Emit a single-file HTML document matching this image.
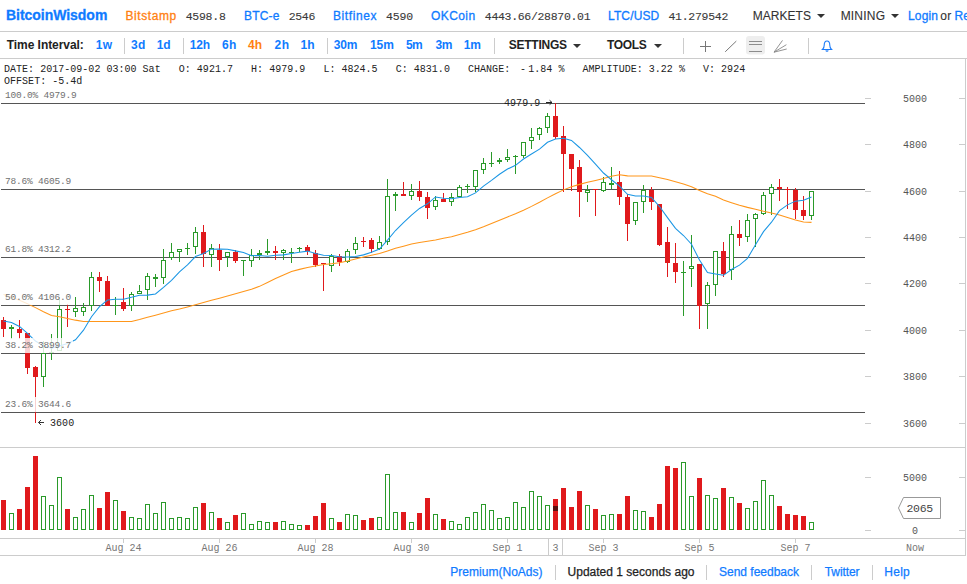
<!DOCTYPE html>
<html><head><meta charset="utf-8"><title>BitcoinWisdom</title>
<style>
html,body{margin:0;padding:0;background:#fff;}
body{width:967px;height:584px;overflow:hidden;position:relative;font-family:"Liberation Sans",sans-serif;color:#333;}
.a{position:absolute;white-space:nowrap;}
.h1 span,.h2 span,.ft span{position:absolute;white-space:nowrap;}
.h1{position:absolute;left:0;top:0;width:967px;height:31px;border-bottom:1px solid #ccc;font-size:12px;line-height:15px;}
.h1 span{top:9px;-webkit-text-stroke:0.3px;}
.b{color:#0f7bff;}
.o{color:#ff8112;}
.m{font-family:"Liberation Mono",monospace;}
.h1 span:not(.b):not(.o){-webkit-text-stroke:0.1px;}
.h1 .m{font-size:11.5px;color:#3a3a3a;top:9px;-webkit-text-stroke:0;}
.h2{position:absolute;left:0;top:32px;width:967px;height:26px;border-bottom:1px solid #ccc;font-size:12px;line-height:14px;font-weight:bold;}
.h2 span{top:6px;}
.h2 i{position:absolute;top:6px;width:1px;height:16px;background:#ccc;}
.info{position:absolute;left:4px;font-family:"Liberation Mono",monospace;font-size:10px;line-height:12px;color:#222;white-space:pre;letter-spacing:0.025px;}
.fl{position:absolute;left:3px;font-family:"Liberation Mono",monospace;font-size:9.5px;letter-spacing:-0.2px;line-height:12px;height:13px;color:#707070;background:rgba(255,255,255,0.8);padding:2px 2px 0;white-space:pre;}
.pl{position:absolute;left:903px;width:24px;text-align:center;font-family:"Liberation Mono",monospace;font-size:10px;line-height:12px;color:#555;}
.xl{position:absolute;top:543px;width:60px;text-align:center;font-family:"Liberation Mono",monospace;font-size:10px;line-height:12px;color:#777;white-space:pre;}
.ft{position:absolute;left:0;top:556px;width:967px;height:28px;font-size:12px;line-height:14px;}
.ft span{top:9px;-webkit-text-stroke:0.25px;}
.ft i{position:absolute;top:9px;width:1px;height:15px;background:#ccc;}
.car{position:absolute;width:0;height:0;border-left:4px solid transparent;border-right:4px solid transparent;border-top:4px solid #333;}
</style></head><body>
<div class="h1">
<span class="b" style="left:5.95px;letter-spacing:-0.03px;font-weight:bold;font-size:14px;top:8px;">BitcoinWisdom</span>
<span class="o" style="left:125.40px;letter-spacing:0.60px;">Bitstamp</span>
<span class="m" style="left:185.65px;letter-spacing:-0.25px;">4598.8</span>
<span class="b" style="left:244.00px;letter-spacing:0.18px;">BTC-e</span>
<span class="m" style="left:288.75px;letter-spacing:-0.34px;">2546</span>
<span class="b" style="left:333.00px;letter-spacing:0.60px;">Bitfinex</span>
<span class="m" style="left:385.90px;letter-spacing:-0.08px;">4590</span>
<span class="b" style="left:430.90px;letter-spacing:0.45px;">OKCoin</span>
<span class="m" style="left:484.80px;letter-spacing:-0.31px;">4443.66/28870.01</span>
<span class="b" style="left:608.00px;letter-spacing:0.13px;">LTC/USD</span>
<span class="m" style="left:668.50px;letter-spacing:-0.28px;">41.279542</span>
<span class="" style="left:752.65px;letter-spacing:0.04px;">MARKETS</span>
<span class="" style="left:840.65px;letter-spacing:0.20px;">MINING</span>
<span class="b" style="left:907.95px;letter-spacing:0.18px;">Login</span>
<span class="" style="left:940.30px;letter-spacing:0.18px;">or</span>
<span class="b" style="left:954.50px;letter-spacing:0.18px;">Register</span>
<div class="car" style="left:817px;top:14px;"></div><div class="car" style="left:891px;top:14px;"></div>
</div>
<div class="h2">
<span class="" style="left:6.80px;letter-spacing:-0.06px;color:#222;">Time Interval:</span>
<span class="b" style="left:95.80px;letter-spacing:0.25px;">1w</span>
<span class="b" style="left:130.90px;letter-spacing:0.50px;">3d</span>
<span class="b" style="left:156.70px;letter-spacing:0.00px;">1d</span>
<span class="b" style="left:189.70px;letter-spacing:-0.12px;">12h</span>
<span class="b" style="left:221.95px;letter-spacing:0.50px;">6h</span>
<span class="o" style="left:248.05px;letter-spacing:0.00px;">4h</span>
<span class="b" style="left:274.50px;letter-spacing:0.50px;">2h</span>
<span class="b" style="left:300.55px;letter-spacing:-0.00px;">1h</span>
<span class="b" style="left:333.75px;letter-spacing:-0.12px;">30m</span>
<span class="b" style="left:369.90px;letter-spacing:0.00px;">15m</span>
<span class="b" style="left:405.90px;letter-spacing:-0.50px;">5m</span>
<span class="b" style="left:435.50px;letter-spacing:-0.50px;">3m</span>
<span class="b" style="left:463.70px;letter-spacing:0.00px;">1m</span>
<span class="" style="left:508.75px;letter-spacing:-0.25px;color:#222;">SETTINGS</span>
<span class="" style="left:607.00px;letter-spacing:-0.31px;color:#222;">TOOLS</span>
<i style="left:124px"></i><i style="left:183px"></i><i style="left:327px"></i><i style="left:494px"></i><i style="left:683px"></i><i style="left:808px"></i><div class="car" style="left:573px;top:12px;"></div><div class="car" style="left:654px;top:12px;"></div>
<svg class="a" style="left:690px;top:0;" width="160" height="26" viewBox="690 32 160 26">
<rect x="746" y="36" width="19" height="18.5" rx="3" fill="#eee"/>
<g stroke="#777" stroke-width="1" fill="none">
<path d="M700 46.5H711M705.5 41V52"/>
<path d="M725.2 51.8L736.3 41.1"/>
<path d="M749 41.5H762M749 44.5H762M749 51.5H762" stroke="#8c8c8c"/>
<path d="M774 52.2L782.5 40.4M774 52.2L786.4 44.7M774 52.2L786.7 49" stroke="#888" stroke-width="0.9"/>
</g>
<path d="M822.5 49.5h9c-1.2-1-1.7-2.2-1.7-4.2 0-2.6-1.1-4.3-2.8-4.3s-2.8 1.7-2.8 4.3c0 2-.5 3.2-1.7 4.2zM826 50.3a1 1 0 0 0 2 0" fill="none" stroke="#1a7af8" stroke-width="1.1"/>
</svg>
</div>
<div class="info" style="top:64px;">DATE: 2017-09-02 03:00 Sat   O: 4921.7   H: 4979.9   L: 4824.5   C: 4831.0   CHANGE:   1.84 %   AMPLITUDE: 3.22 %   V: 2924</div>
<div class="info" style="top:64px;left:520px;">-</div>
<div class="info" style="top:76px;">OFFSET: -5.4d</div>
<svg class="a" style="left:0;top:0;" width="967" height="584" viewBox="0 0 967 584" shape-rendering="crispEdges">
<rect x="965" y="59" width="1" height="497" fill="#ccc"/>
<rect x="0" y="447" width="965" height="1" fill="#ccc"/>
<rect x="0" y="538" width="965" height="1" fill="#ccc"/>
<rect x="0" y="555" width="965" height="1" fill="#ccc"/>
<rect x="1" y="103" width="864" height="1" fill="#555"/><rect x="1" y="189" width="864" height="1" fill="#555"/><rect x="1" y="257" width="864" height="1" fill="#555"/><rect x="1" y="305" width="864" height="1" fill="#555"/><rect x="1" y="353" width="864" height="1" fill="#555"/><rect x="1" y="412" width="864" height="1" fill="#555"/>
<rect x="865" y="98" width="6" height="1" fill="#ccc"/><rect x="959" y="98" width="6" height="1" fill="#ccc"/><rect x="865" y="144" width="6" height="1" fill="#ccc"/><rect x="959" y="144" width="6" height="1" fill="#ccc"/><rect x="865" y="191" width="6" height="1" fill="#ccc"/><rect x="959" y="191" width="6" height="1" fill="#ccc"/><rect x="865" y="237" width="6" height="1" fill="#ccc"/><rect x="959" y="237" width="6" height="1" fill="#ccc"/><rect x="865" y="283" width="6" height="1" fill="#ccc"/><rect x="959" y="283" width="6" height="1" fill="#ccc"/><rect x="865" y="330" width="6" height="1" fill="#ccc"/><rect x="959" y="330" width="6" height="1" fill="#ccc"/><rect x="865" y="376" width="6" height="1" fill="#ccc"/><rect x="959" y="376" width="6" height="1" fill="#ccc"/><rect x="865" y="423" width="6" height="1" fill="#ccc"/><rect x="959" y="423" width="6" height="1" fill="#ccc"/><rect x="865" y="477" width="6" height="1" fill="#ccc"/><rect x="959" y="477" width="6" height="1" fill="#ccc"/><rect x="865" y="530" width="6" height="1" fill="#ccc"/><rect x="959" y="530" width="6" height="1" fill="#ccc"/>
<rect x="123" y="539" width="1" height="4" fill="#ccc"/><rect x="219" y="539" width="1" height="4" fill="#ccc"/><rect x="315" y="539" width="1" height="4" fill="#ccc"/><rect x="411" y="539" width="1" height="4" fill="#ccc"/><rect x="507" y="539" width="1" height="4" fill="#ccc"/><rect x="603" y="539" width="1" height="4" fill="#ccc"/><rect x="699" y="539" width="1" height="4" fill="#ccc"/><rect x="795" y="539" width="1" height="4" fill="#ccc"/>
<rect x="3" y="317" width="1" height="20" fill="#e0191c"/>
<rect x="1" y="320" width="5" height="9" fill="#e0191c"/>
<rect x="11" y="325" width="1" height="14" fill="#2a9a2a"/>
<rect x="9" y="327" width="5" height="2" fill="#2a9a2a"/>
<rect x="19" y="320" width="1" height="19" fill="#e0191c"/>
<rect x="17" y="329" width="5" height="4" fill="#e0191c"/>
<rect x="27" y="333" width="1" height="41" fill="#e0191c"/>
<rect x="25" y="333" width="5" height="35" fill="#e0191c"/>
<rect x="35" y="366" width="1" height="57" fill="#e0191c"/>
<rect x="33" y="367" width="5" height="10" fill="#e0191c"/>
<rect x="43" y="341" width="1" height="46" fill="#2a9a2a"/>
<rect x="41" y="353" width="5" height="24" fill="#2a9a2a"/>
<rect x="42" y="354" width="3" height="22" fill="#fff"/>
<rect x="51" y="334" width="1" height="26" fill="#2a9a2a"/>
<rect x="49" y="352" width="5" height="1" fill="#2a9a2a"/>
<rect x="59" y="297" width="1" height="54" fill="#2a9a2a"/>
<rect x="57" y="309" width="5" height="42" fill="#2a9a2a"/>
<rect x="58" y="310" width="3" height="40" fill="#fff"/>
<rect x="67" y="304" width="1" height="23" fill="#e0191c"/>
<rect x="65" y="309" width="5" height="1" fill="#e0191c"/>
<rect x="75" y="297" width="1" height="20" fill="#2a9a2a"/>
<rect x="73" y="308" width="5" height="4" fill="#2a9a2a"/>
<rect x="74" y="309" width="3" height="2" fill="#fff"/>
<rect x="83" y="303" width="1" height="13" fill="#2a9a2a"/>
<rect x="81" y="307" width="5" height="5" fill="#2a9a2a"/>
<rect x="82" y="308" width="3" height="3" fill="#fff"/>
<rect x="91" y="272" width="1" height="39" fill="#2a9a2a"/>
<rect x="89" y="277" width="5" height="29" fill="#2a9a2a"/>
<rect x="90" y="278" width="3" height="27" fill="#fff"/>
<rect x="99" y="272" width="1" height="20" fill="#e0191c"/>
<rect x="97" y="277" width="5" height="4" fill="#e0191c"/>
<rect x="107" y="276" width="1" height="30" fill="#e0191c"/>
<rect x="105" y="281" width="5" height="25" fill="#e0191c"/>
<rect x="115" y="297" width="1" height="18" fill="#2a9a2a"/>
<rect x="113" y="305" width="5" height="1" fill="#2a9a2a"/>
<rect x="123" y="288" width="1" height="23" fill="#e0191c"/>
<rect x="121" y="302" width="5" height="7" fill="#e0191c"/>
<rect x="131" y="292" width="1" height="19" fill="#2a9a2a"/>
<rect x="129" y="294" width="5" height="12" fill="#2a9a2a"/>
<rect x="130" y="295" width="3" height="10" fill="#fff"/>
<rect x="139" y="285" width="1" height="9" fill="#2a9a2a"/>
<rect x="137" y="291" width="5" height="3" fill="#2a9a2a"/>
<rect x="138" y="292" width="3" height="1" fill="#fff"/>
<rect x="147" y="273" width="1" height="27" fill="#2a9a2a"/>
<rect x="145" y="276" width="5" height="14" fill="#2a9a2a"/>
<rect x="146" y="277" width="3" height="12" fill="#fff"/>
<rect x="155" y="274" width="1" height="13" fill="#2a9a2a"/>
<rect x="153" y="277" width="5" height="2" fill="#2a9a2a"/>
<rect x="163" y="249" width="1" height="35" fill="#2a9a2a"/>
<rect x="161" y="260" width="5" height="18" fill="#2a9a2a"/>
<rect x="162" y="261" width="3" height="16" fill="#fff"/>
<rect x="171" y="243" width="1" height="17" fill="#2a9a2a"/>
<rect x="169" y="252" width="5" height="6" fill="#2a9a2a"/>
<rect x="170" y="253" width="3" height="4" fill="#fff"/>
<rect x="179" y="249" width="1" height="13" fill="#2a9a2a"/>
<rect x="177" y="249" width="5" height="3" fill="#2a9a2a"/>
<rect x="178" y="250" width="3" height="1" fill="#fff"/>
<rect x="187" y="243" width="1" height="12" fill="#2a9a2a"/>
<rect x="185" y="248" width="5" height="1" fill="#2a9a2a"/>
<rect x="195" y="227" width="1" height="27" fill="#2a9a2a"/>
<rect x="193" y="232" width="5" height="15" fill="#2a9a2a"/>
<rect x="194" y="233" width="3" height="13" fill="#fff"/>
<rect x="203" y="225" width="1" height="42" fill="#e0191c"/>
<rect x="201" y="232" width="5" height="22" fill="#e0191c"/>
<rect x="211" y="244" width="1" height="23" fill="#2a9a2a"/>
<rect x="209" y="248" width="5" height="7" fill="#2a9a2a"/>
<rect x="210" y="249" width="3" height="5" fill="#fff"/>
<rect x="219" y="244" width="1" height="27" fill="#e0191c"/>
<rect x="217" y="250" width="5" height="10" fill="#e0191c"/>
<rect x="227" y="252" width="1" height="15" fill="#2a9a2a"/>
<rect x="225" y="252" width="5" height="5" fill="#2a9a2a"/>
<rect x="226" y="253" width="3" height="3" fill="#fff"/>
<rect x="235" y="250" width="1" height="13" fill="#e0191c"/>
<rect x="233" y="252" width="5" height="9" fill="#e0191c"/>
<rect x="243" y="260" width="1" height="16" fill="#2a9a2a"/>
<rect x="241" y="260" width="5" height="1" fill="#2a9a2a"/>
<rect x="251" y="249" width="1" height="18" fill="#2a9a2a"/>
<rect x="249" y="255" width="5" height="6" fill="#2a9a2a"/>
<rect x="250" y="256" width="3" height="4" fill="#fff"/>
<rect x="259" y="250" width="1" height="10" fill="#2a9a2a"/>
<rect x="257" y="253" width="5" height="2" fill="#2a9a2a"/>
<rect x="267" y="239" width="1" height="16" fill="#2a9a2a"/>
<rect x="265" y="251" width="5" height="2" fill="#2a9a2a"/>
<rect x="275" y="246" width="1" height="14" fill="#e0191c"/>
<rect x="273" y="251" width="5" height="2" fill="#e0191c"/>
<rect x="283" y="249" width="1" height="11" fill="#2a9a2a"/>
<rect x="281" y="250" width="5" height="3" fill="#2a9a2a"/>
<rect x="282" y="251" width="3" height="1" fill="#fff"/>
<rect x="291" y="248" width="1" height="15" fill="#2a9a2a"/>
<rect x="289" y="252" width="5" height="1" fill="#2a9a2a"/>
<rect x="299" y="247" width="1" height="5" fill="#2a9a2a"/>
<rect x="297" y="248" width="5" height="1" fill="#2a9a2a"/>
<rect x="307" y="245" width="1" height="10" fill="#e0191c"/>
<rect x="305" y="247" width="5" height="4" fill="#e0191c"/>
<rect x="315" y="250" width="1" height="17" fill="#e0191c"/>
<rect x="313" y="253" width="5" height="12" fill="#e0191c"/>
<rect x="323" y="263" width="1" height="28" fill="#e0191c"/>
<rect x="321" y="263" width="5" height="1" fill="#e0191c"/>
<rect x="331" y="254" width="1" height="18" fill="#2a9a2a"/>
<rect x="329" y="256" width="5" height="10" fill="#2a9a2a"/>
<rect x="330" y="257" width="3" height="8" fill="#fff"/>
<rect x="339" y="254" width="1" height="12" fill="#e0191c"/>
<rect x="337" y="256" width="5" height="6" fill="#e0191c"/>
<rect x="347" y="249" width="1" height="14" fill="#2a9a2a"/>
<rect x="345" y="251" width="5" height="11" fill="#2a9a2a"/>
<rect x="346" y="252" width="3" height="9" fill="#fff"/>
<rect x="355" y="237" width="1" height="17" fill="#2a9a2a"/>
<rect x="353" y="243" width="5" height="7" fill="#2a9a2a"/>
<rect x="354" y="244" width="3" height="5" fill="#fff"/>
<rect x="363" y="237" width="1" height="10" fill="#e0191c"/>
<rect x="361" y="241" width="5" height="1" fill="#e0191c"/>
<rect x="371" y="238" width="1" height="15" fill="#e0191c"/>
<rect x="369" y="240" width="5" height="9" fill="#e0191c"/>
<rect x="379" y="236" width="1" height="14" fill="#2a9a2a"/>
<rect x="377" y="242" width="5" height="7" fill="#2a9a2a"/>
<rect x="378" y="243" width="3" height="5" fill="#fff"/>
<rect x="387" y="179" width="1" height="66" fill="#2a9a2a"/>
<rect x="385" y="196" width="5" height="46" fill="#2a9a2a"/>
<rect x="386" y="197" width="3" height="44" fill="#fff"/>
<rect x="395" y="192" width="1" height="19" fill="#2a9a2a"/>
<rect x="393" y="194" width="5" height="2" fill="#2a9a2a"/>
<rect x="403" y="182" width="1" height="14" fill="#e0191c"/>
<rect x="401" y="194" width="5" height="2" fill="#e0191c"/>
<rect x="411" y="184" width="1" height="16" fill="#2a9a2a"/>
<rect x="409" y="191" width="5" height="5" fill="#2a9a2a"/>
<rect x="410" y="192" width="3" height="3" fill="#fff"/>
<rect x="419" y="181" width="1" height="20" fill="#e0191c"/>
<rect x="417" y="191" width="5" height="6" fill="#e0191c"/>
<rect x="427" y="192" width="1" height="27" fill="#e0191c"/>
<rect x="425" y="197" width="5" height="11" fill="#e0191c"/>
<rect x="435" y="196" width="1" height="14" fill="#2a9a2a"/>
<rect x="433" y="200" width="5" height="7" fill="#2a9a2a"/>
<rect x="434" y="201" width="3" height="5" fill="#fff"/>
<rect x="443" y="193" width="1" height="9" fill="#e0191c"/>
<rect x="441" y="199" width="5" height="3" fill="#e0191c"/>
<rect x="451" y="193" width="1" height="13" fill="#2a9a2a"/>
<rect x="449" y="197" width="5" height="5" fill="#2a9a2a"/>
<rect x="450" y="198" width="3" height="3" fill="#fff"/>
<rect x="459" y="185" width="1" height="13" fill="#2a9a2a"/>
<rect x="457" y="187" width="5" height="10" fill="#2a9a2a"/>
<rect x="458" y="188" width="3" height="8" fill="#fff"/>
<rect x="467" y="184" width="1" height="9" fill="#2a9a2a"/>
<rect x="465" y="186" width="5" height="1" fill="#2a9a2a"/>
<rect x="475" y="170" width="1" height="22" fill="#2a9a2a"/>
<rect x="473" y="170" width="5" height="17" fill="#2a9a2a"/>
<rect x="474" y="171" width="3" height="15" fill="#fff"/>
<rect x="483" y="158" width="1" height="16" fill="#2a9a2a"/>
<rect x="481" y="163" width="5" height="7" fill="#2a9a2a"/>
<rect x="482" y="164" width="3" height="5" fill="#fff"/>
<rect x="491" y="152" width="1" height="15" fill="#2a9a2a"/>
<rect x="489" y="163" width="5" height="1" fill="#2a9a2a"/>
<rect x="499" y="158" width="1" height="6" fill="#2a9a2a"/>
<rect x="497" y="160" width="5" height="2" fill="#2a9a2a"/>
<rect x="507" y="149" width="1" height="13" fill="#2a9a2a"/>
<rect x="505" y="157" width="5" height="3" fill="#2a9a2a"/>
<rect x="506" y="158" width="3" height="1" fill="#fff"/>
<rect x="515" y="155" width="1" height="19" fill="#2a9a2a"/>
<rect x="513" y="156" width="5" height="1" fill="#2a9a2a"/>
<rect x="523" y="142" width="1" height="16" fill="#2a9a2a"/>
<rect x="521" y="142" width="5" height="14" fill="#2a9a2a"/>
<rect x="522" y="143" width="3" height="12" fill="#fff"/>
<rect x="531" y="128" width="1" height="21" fill="#2a9a2a"/>
<rect x="529" y="137" width="5" height="4" fill="#2a9a2a"/>
<rect x="530" y="138" width="3" height="2" fill="#fff"/>
<rect x="539" y="127" width="1" height="13" fill="#2a9a2a"/>
<rect x="537" y="128" width="5" height="7" fill="#2a9a2a"/>
<rect x="538" y="129" width="3" height="5" fill="#fff"/>
<rect x="547" y="113" width="1" height="20" fill="#2a9a2a"/>
<rect x="545" y="116" width="5" height="12" fill="#2a9a2a"/>
<rect x="546" y="117" width="3" height="10" fill="#fff"/>
<rect x="555" y="103" width="1" height="36" fill="#e0191c"/>
<rect x="553" y="116" width="5" height="21" fill="#e0191c"/>
<rect x="563" y="126" width="1" height="66" fill="#e0191c"/>
<rect x="561" y="136" width="5" height="18" fill="#e0191c"/>
<rect x="571" y="154" width="1" height="37" fill="#e0191c"/>
<rect x="569" y="154" width="5" height="15" fill="#e0191c"/>
<rect x="579" y="160" width="1" height="57" fill="#e0191c"/>
<rect x="577" y="167" width="5" height="25" fill="#e0191c"/>
<rect x="587" y="185" width="1" height="17" fill="#2a9a2a"/>
<rect x="585" y="190" width="5" height="3" fill="#2a9a2a"/>
<rect x="586" y="191" width="3" height="1" fill="#fff"/>
<rect x="595" y="189" width="1" height="27" fill="#e0191c"/>
<rect x="593" y="189" width="5" height="1" fill="#e0191c"/>
<rect x="603" y="177" width="1" height="15" fill="#2a9a2a"/>
<rect x="601" y="182" width="5" height="9" fill="#2a9a2a"/>
<rect x="602" y="183" width="3" height="7" fill="#fff"/>
<rect x="611" y="167" width="1" height="22" fill="#2a9a2a"/>
<rect x="609" y="183" width="5" height="2" fill="#2a9a2a"/>
<rect x="619" y="171" width="1" height="34" fill="#e0191c"/>
<rect x="617" y="182" width="5" height="15" fill="#e0191c"/>
<rect x="627" y="194" width="1" height="47" fill="#e0191c"/>
<rect x="625" y="197" width="5" height="27" fill="#e0191c"/>
<rect x="635" y="202" width="1" height="23" fill="#2a9a2a"/>
<rect x="633" y="202" width="5" height="19" fill="#2a9a2a"/>
<rect x="634" y="203" width="3" height="17" fill="#fff"/>
<rect x="643" y="185" width="1" height="28" fill="#2a9a2a"/>
<rect x="641" y="190" width="5" height="12" fill="#2a9a2a"/>
<rect x="642" y="191" width="3" height="10" fill="#fff"/>
<rect x="651" y="187" width="1" height="23" fill="#e0191c"/>
<rect x="649" y="190" width="5" height="12" fill="#e0191c"/>
<rect x="659" y="204" width="1" height="42" fill="#e0191c"/>
<rect x="657" y="204" width="5" height="41" fill="#e0191c"/>
<rect x="667" y="227" width="1" height="50" fill="#e0191c"/>
<rect x="665" y="242" width="5" height="21" fill="#e0191c"/>
<rect x="675" y="243" width="1" height="40" fill="#e0191c"/>
<rect x="673" y="263" width="5" height="9" fill="#e0191c"/>
<rect x="683" y="261" width="1" height="55" fill="#2a9a2a"/>
<rect x="681" y="272" width="5" height="1" fill="#2a9a2a"/>
<rect x="691" y="235" width="1" height="52" fill="#2a9a2a"/>
<rect x="689" y="266" width="5" height="3" fill="#2a9a2a"/>
<rect x="690" y="267" width="3" height="1" fill="#fff"/>
<rect x="699" y="264" width="1" height="65" fill="#e0191c"/>
<rect x="697" y="264" width="5" height="42" fill="#e0191c"/>
<rect x="707" y="282" width="1" height="47" fill="#2a9a2a"/>
<rect x="705" y="285" width="5" height="19" fill="#2a9a2a"/>
<rect x="706" y="286" width="3" height="17" fill="#fff"/>
<rect x="715" y="251" width="1" height="45" fill="#2a9a2a"/>
<rect x="713" y="251" width="5" height="34" fill="#2a9a2a"/>
<rect x="714" y="252" width="3" height="32" fill="#fff"/>
<rect x="723" y="242" width="1" height="35" fill="#e0191c"/>
<rect x="721" y="251" width="5" height="23" fill="#e0191c"/>
<rect x="731" y="226" width="1" height="54" fill="#2a9a2a"/>
<rect x="729" y="234" width="5" height="36" fill="#2a9a2a"/>
<rect x="730" y="235" width="3" height="34" fill="#fff"/>
<rect x="739" y="220" width="1" height="26" fill="#e0191c"/>
<rect x="737" y="234" width="5" height="4" fill="#e0191c"/>
<rect x="747" y="214" width="1" height="28" fill="#2a9a2a"/>
<rect x="745" y="220" width="5" height="17" fill="#2a9a2a"/>
<rect x="746" y="221" width="3" height="15" fill="#fff"/>
<rect x="755" y="213" width="1" height="34" fill="#2a9a2a"/>
<rect x="753" y="214" width="5" height="5" fill="#2a9a2a"/>
<rect x="754" y="215" width="3" height="3" fill="#fff"/>
<rect x="763" y="192" width="1" height="23" fill="#2a9a2a"/>
<rect x="761" y="195" width="5" height="19" fill="#2a9a2a"/>
<rect x="762" y="196" width="3" height="17" fill="#fff"/>
<rect x="771" y="184" width="1" height="31" fill="#2a9a2a"/>
<rect x="769" y="187" width="5" height="7" fill="#2a9a2a"/>
<rect x="770" y="188" width="3" height="5" fill="#fff"/>
<rect x="779" y="179" width="1" height="22" fill="#e0191c"/>
<rect x="777" y="187" width="5" height="2" fill="#e0191c"/>
<rect x="787" y="187" width="1" height="22" fill="#e0191c"/>
<rect x="785" y="189" width="5" height="1" fill="#e0191c"/>
<rect x="795" y="188" width="1" height="31" fill="#e0191c"/>
<rect x="793" y="190" width="5" height="20" fill="#e0191c"/>
<rect x="803" y="196" width="1" height="24" fill="#e0191c"/>
<rect x="801" y="210" width="5" height="6" fill="#e0191c"/>
<rect x="811" y="191" width="1" height="29" fill="#2a9a2a"/>
<rect x="809" y="191" width="5" height="25" fill="#2a9a2a"/>
<rect x="810" y="192" width="3" height="23" fill="#fff"/>
<rect x="1" y="500" width="5" height="30" fill="#e0191c"/>
<rect x="9" y="513" width="5" height="17" fill="#2a9a2a"/>
<rect x="10" y="514" width="3" height="15" fill="#fff"/>
<rect x="17" y="509" width="5" height="21" fill="#e0191c"/>
<rect x="25" y="487" width="5" height="43" fill="#e0191c"/>
<rect x="33" y="456" width="5" height="74" fill="#e0191c"/>
<rect x="41" y="496" width="5" height="34" fill="#2a9a2a"/>
<rect x="42" y="497" width="3" height="32" fill="#fff"/>
<rect x="49" y="505" width="5" height="25" fill="#2a9a2a"/>
<rect x="50" y="506" width="3" height="23" fill="#fff"/>
<rect x="57" y="477" width="5" height="53" fill="#2a9a2a"/>
<rect x="58" y="478" width="3" height="51" fill="#fff"/>
<rect x="65" y="509" width="5" height="21" fill="#e0191c"/>
<rect x="73" y="517" width="5" height="13" fill="#2a9a2a"/>
<rect x="74" y="518" width="3" height="11" fill="#fff"/>
<rect x="81" y="509" width="5" height="21" fill="#2a9a2a"/>
<rect x="82" y="510" width="3" height="19" fill="#fff"/>
<rect x="89" y="495" width="5" height="35" fill="#2a9a2a"/>
<rect x="90" y="496" width="3" height="33" fill="#fff"/>
<rect x="97" y="508" width="5" height="22" fill="#e0191c"/>
<rect x="105" y="492" width="5" height="38" fill="#e0191c"/>
<rect x="113" y="500" width="5" height="30" fill="#2a9a2a"/>
<rect x="114" y="501" width="3" height="28" fill="#fff"/>
<rect x="121" y="511" width="5" height="19" fill="#e0191c"/>
<rect x="129" y="517" width="5" height="13" fill="#2a9a2a"/>
<rect x="130" y="518" width="3" height="11" fill="#fff"/>
<rect x="137" y="518" width="5" height="12" fill="#2a9a2a"/>
<rect x="138" y="519" width="3" height="10" fill="#fff"/>
<rect x="145" y="504" width="5" height="26" fill="#2a9a2a"/>
<rect x="146" y="505" width="3" height="24" fill="#fff"/>
<rect x="153" y="513" width="5" height="17" fill="#2a9a2a"/>
<rect x="154" y="514" width="3" height="15" fill="#fff"/>
<rect x="161" y="502" width="5" height="28" fill="#2a9a2a"/>
<rect x="162" y="503" width="3" height="26" fill="#fff"/>
<rect x="169" y="518" width="5" height="12" fill="#2a9a2a"/>
<rect x="170" y="519" width="3" height="10" fill="#fff"/>
<rect x="177" y="517" width="5" height="13" fill="#2a9a2a"/>
<rect x="178" y="518" width="3" height="11" fill="#fff"/>
<rect x="185" y="518" width="5" height="12" fill="#2a9a2a"/>
<rect x="186" y="519" width="3" height="10" fill="#fff"/>
<rect x="193" y="507" width="5" height="23" fill="#2a9a2a"/>
<rect x="194" y="508" width="3" height="21" fill="#fff"/>
<rect x="201" y="503" width="5" height="27" fill="#e0191c"/>
<rect x="209" y="512" width="5" height="18" fill="#2a9a2a"/>
<rect x="210" y="513" width="3" height="16" fill="#fff"/>
<rect x="217" y="518" width="5" height="12" fill="#e0191c"/>
<rect x="225" y="522" width="5" height="8" fill="#2a9a2a"/>
<rect x="226" y="523" width="3" height="6" fill="#fff"/>
<rect x="233" y="515" width="5" height="15" fill="#e0191c"/>
<rect x="241" y="513" width="5" height="17" fill="#2a9a2a"/>
<rect x="242" y="514" width="3" height="15" fill="#fff"/>
<rect x="249" y="524" width="5" height="6" fill="#2a9a2a"/>
<rect x="250" y="525" width="3" height="4" fill="#fff"/>
<rect x="257" y="521" width="5" height="9" fill="#2a9a2a"/>
<rect x="258" y="522" width="3" height="7" fill="#fff"/>
<rect x="265" y="522" width="5" height="8" fill="#2a9a2a"/>
<rect x="266" y="523" width="3" height="6" fill="#fff"/>
<rect x="273" y="522" width="5" height="8" fill="#e0191c"/>
<rect x="281" y="521" width="5" height="9" fill="#2a9a2a"/>
<rect x="282" y="522" width="3" height="7" fill="#fff"/>
<rect x="289" y="524" width="5" height="6" fill="#2a9a2a"/>
<rect x="290" y="525" width="3" height="4" fill="#fff"/>
<rect x="297" y="525" width="5" height="5" fill="#2a9a2a"/>
<rect x="298" y="526" width="3" height="3" fill="#fff"/>
<rect x="305" y="525" width="5" height="5" fill="#e0191c"/>
<rect x="313" y="516" width="5" height="14" fill="#e0191c"/>
<rect x="321" y="503" width="5" height="27" fill="#e0191c"/>
<rect x="329" y="518" width="5" height="12" fill="#2a9a2a"/>
<rect x="330" y="519" width="3" height="10" fill="#fff"/>
<rect x="337" y="522" width="5" height="8" fill="#e0191c"/>
<rect x="345" y="514" width="5" height="16" fill="#2a9a2a"/>
<rect x="346" y="515" width="3" height="14" fill="#fff"/>
<rect x="353" y="515" width="5" height="15" fill="#2a9a2a"/>
<rect x="354" y="516" width="3" height="13" fill="#fff"/>
<rect x="361" y="520" width="5" height="10" fill="#e0191c"/>
<rect x="369" y="518" width="5" height="12" fill="#e0191c"/>
<rect x="377" y="517" width="5" height="13" fill="#2a9a2a"/>
<rect x="378" y="518" width="3" height="11" fill="#fff"/>
<rect x="385" y="474" width="5" height="56" fill="#2a9a2a"/>
<rect x="386" y="475" width="3" height="54" fill="#fff"/>
<rect x="393" y="512" width="5" height="18" fill="#2a9a2a"/>
<rect x="394" y="513" width="3" height="16" fill="#fff"/>
<rect x="401" y="512" width="5" height="18" fill="#e0191c"/>
<rect x="409" y="522" width="5" height="8" fill="#2a9a2a"/>
<rect x="410" y="523" width="3" height="6" fill="#fff"/>
<rect x="417" y="513" width="5" height="17" fill="#e0191c"/>
<rect x="425" y="498" width="5" height="32" fill="#e0191c"/>
<rect x="433" y="514" width="5" height="16" fill="#2a9a2a"/>
<rect x="434" y="515" width="3" height="14" fill="#fff"/>
<rect x="441" y="519" width="5" height="11" fill="#e0191c"/>
<rect x="449" y="521" width="5" height="9" fill="#2a9a2a"/>
<rect x="450" y="522" width="3" height="7" fill="#fff"/>
<rect x="457" y="524" width="5" height="6" fill="#2a9a2a"/>
<rect x="458" y="525" width="3" height="4" fill="#fff"/>
<rect x="465" y="517" width="5" height="13" fill="#2a9a2a"/>
<rect x="466" y="518" width="3" height="11" fill="#fff"/>
<rect x="473" y="512" width="5" height="18" fill="#2a9a2a"/>
<rect x="474" y="513" width="3" height="16" fill="#fff"/>
<rect x="481" y="504" width="5" height="26" fill="#2a9a2a"/>
<rect x="482" y="505" width="3" height="24" fill="#fff"/>
<rect x="489" y="510" width="5" height="20" fill="#2a9a2a"/>
<rect x="490" y="511" width="3" height="18" fill="#fff"/>
<rect x="497" y="518" width="5" height="12" fill="#2a9a2a"/>
<rect x="498" y="519" width="3" height="10" fill="#fff"/>
<rect x="505" y="517" width="5" height="13" fill="#2a9a2a"/>
<rect x="506" y="518" width="3" height="11" fill="#fff"/>
<rect x="513" y="502" width="5" height="28" fill="#2a9a2a"/>
<rect x="514" y="503" width="3" height="26" fill="#fff"/>
<rect x="521" y="507" width="5" height="23" fill="#2a9a2a"/>
<rect x="522" y="508" width="3" height="21" fill="#fff"/>
<rect x="529" y="491" width="5" height="39" fill="#2a9a2a"/>
<rect x="530" y="492" width="3" height="37" fill="#fff"/>
<rect x="537" y="496" width="5" height="34" fill="#2a9a2a"/>
<rect x="538" y="497" width="3" height="32" fill="#fff"/>
<rect x="545" y="505" width="5" height="25" fill="#2a9a2a"/>
<rect x="546" y="506" width="3" height="23" fill="#fff"/>
<rect x="553" y="499" width="5" height="31" fill="#e0191c"/>
<rect x="561" y="488" width="5" height="42" fill="#e0191c"/>
<rect x="569" y="507" width="5" height="23" fill="#e0191c"/>
<rect x="577" y="491" width="5" height="39" fill="#e0191c"/>
<rect x="585" y="505" width="5" height="25" fill="#2a9a2a"/>
<rect x="586" y="506" width="3" height="23" fill="#fff"/>
<rect x="593" y="509" width="5" height="21" fill="#e0191c"/>
<rect x="601" y="515" width="5" height="15" fill="#2a9a2a"/>
<rect x="602" y="516" width="3" height="13" fill="#fff"/>
<rect x="609" y="514" width="5" height="16" fill="#2a9a2a"/>
<rect x="610" y="515" width="3" height="14" fill="#fff"/>
<rect x="617" y="514" width="5" height="16" fill="#e0191c"/>
<rect x="625" y="496" width="5" height="34" fill="#e0191c"/>
<rect x="633" y="510" width="5" height="20" fill="#2a9a2a"/>
<rect x="634" y="511" width="3" height="18" fill="#fff"/>
<rect x="641" y="511" width="5" height="19" fill="#2a9a2a"/>
<rect x="642" y="512" width="3" height="17" fill="#fff"/>
<rect x="649" y="517" width="5" height="13" fill="#e0191c"/>
<rect x="657" y="504" width="5" height="26" fill="#e0191c"/>
<rect x="665" y="466" width="5" height="64" fill="#e0191c"/>
<rect x="673" y="468" width="5" height="62" fill="#e0191c"/>
<rect x="681" y="462" width="5" height="68" fill="#2a9a2a"/>
<rect x="682" y="463" width="3" height="66" fill="#fff"/>
<rect x="689" y="496" width="5" height="34" fill="#2a9a2a"/>
<rect x="690" y="497" width="3" height="32" fill="#fff"/>
<rect x="697" y="478" width="5" height="52" fill="#e0191c"/>
<rect x="705" y="495" width="5" height="35" fill="#2a9a2a"/>
<rect x="706" y="496" width="3" height="33" fill="#fff"/>
<rect x="713" y="498" width="5" height="32" fill="#2a9a2a"/>
<rect x="714" y="499" width="3" height="30" fill="#fff"/>
<rect x="721" y="488" width="5" height="42" fill="#e0191c"/>
<rect x="729" y="497" width="5" height="33" fill="#2a9a2a"/>
<rect x="730" y="498" width="3" height="31" fill="#fff"/>
<rect x="737" y="503" width="5" height="27" fill="#e0191c"/>
<rect x="745" y="508" width="5" height="22" fill="#2a9a2a"/>
<rect x="746" y="509" width="3" height="20" fill="#fff"/>
<rect x="753" y="501" width="5" height="29" fill="#2a9a2a"/>
<rect x="754" y="502" width="3" height="27" fill="#fff"/>
<rect x="761" y="480" width="5" height="50" fill="#2a9a2a"/>
<rect x="762" y="481" width="3" height="48" fill="#fff"/>
<rect x="769" y="495" width="5" height="35" fill="#2a9a2a"/>
<rect x="770" y="496" width="3" height="33" fill="#fff"/>
<rect x="777" y="506" width="5" height="24" fill="#e0191c"/>
<rect x="785" y="514" width="5" height="16" fill="#e0191c"/>
<rect x="793" y="515" width="5" height="15" fill="#e0191c"/>
<rect x="801" y="516" width="5" height="14" fill="#e0191c"/>
<rect x="809" y="522" width="5" height="8" fill="#2a9a2a"/>
<rect x="810" y="523" width="3" height="6" fill="#fff"/>
<g shape-rendering="auto">
<polyline fill="none" stroke="#ff961a" stroke-width="1.05" stroke-linejoin="miter" points="3.5,294.39 11.5,297.36 19.5,300.35 27.5,303.84 35.5,307.65 43.5,311.66 51.5,315.43 59.5,316.72 67.5,318.4 75.5,320.14 83.5,321.5 91.5,321.5 99.5,321.5 107.5,321.5 115.5,321.5 123.5,321.5 131.5,321.5 139.5,319.5 147.5,317.28 155.5,315.15 163.5,312.92 171.5,310.79 179.5,309.04 187.5,306.9 195.5,304.7 203.5,302.58 211.5,300.29 219.5,298.19 227.5,295.99 235.5,293.65 243.5,291.46 251.5,289.3 259.5,286.36 267.5,282.53 275.5,278.54 283.5,275.08 291.5,271.57 299.5,269.38 307.5,267.52 315.5,266.02 323.5,264.49 331.5,263.71 339.5,262.76 347.5,260.97 355.5,258.98 363.5,257.05 371.5,255.33 379.5,253.45 387.5,250.88 395.5,248.31 403.5,246.14 411.5,244.09 419.5,242.49 427.5,241.17 435.5,239.92 443.5,238.27 451.5,236.82 459.5,234.54 467.5,232.36 475.5,229.7 483.5,226.75 491.5,223.59 499.5,220.26 507.5,216.95 515.5,213.71 523.5,210.25 531.5,206.38 539.5,202.28 547.5,197.88 555.5,193.68 563.5,189.86 571.5,186.66 579.5,184.38 587.5,182.33 595.5,180.43 603.5,178.46 611.5,176.15 619.5,174.8 627.5,175.87 635.5,176.01 643.5,175.91 651.5,176.1 659.5,177.74 667.5,179.49 675.5,181.68 683.5,184.06 691.5,186.76 699.5,190.49 707.5,193.74 715.5,196.35 723.5,200.1 731.5,202.67 739.5,205.2 747.5,207.38 755.5,209.22 763.5,211.24 771.5,212.94 779.5,215.05 787.5,217.45 795.5,220.07 803.5,221.99 811.5,222.37"/>
<polyline fill="none" stroke="#1a96e4" stroke-width="1.05" stroke-linejoin="miter" points="3.5,320.94 11.5,322.45 19.5,326.45 27.5,333.31 35.5,341.05 43.5,345.83 51.5,348.3 59.5,346.11 67.5,343.39 75.5,339.78 83.5,330.21 91.5,316.79 99.5,306.56 107.5,300.0 115.5,299.35 123.5,299.22 131.5,297.28 139.5,295.29 147.5,295.11 155.5,293.9 163.5,287.35 171.5,280.37 179.5,271.85 187.5,264.93 195.5,256.53 203.5,253.56 211.5,249.16 219.5,249.06 227.5,249.34 235.5,250.87 243.5,252.59 251.5,255.72 259.5,255.47 267.5,256.17 275.5,255.23 283.5,254.89 291.5,253.51 299.5,252.22 307.5,251.11 315.5,253.41 323.5,255.29 331.5,255.51 339.5,256.7 347.5,256.92 355.5,256.54 363.5,254.87 371.5,252.22 379.5,249.05 387.5,240.15 395.5,230.52 403.5,222.59 411.5,215.17 419.5,208.43 427.5,203.81 435.5,196.95 443.5,198.24 451.5,198.81 459.5,197.52 467.5,196.84 475.5,192.91 483.5,186.17 491.5,180.34 499.5,174.22 507.5,169.07 515.5,165.3 523.5,159.01 531.5,153.96 539.5,149.09 547.5,142.28 555.5,138.96 563.5,138.25 571.5,140.38 579.5,147.49 587.5,155.39 595.5,164.21 603.5,173.02 611.5,179.76 619.5,186.19 627.5,194.35 635.5,195.91 643.5,195.94 651.5,197.49 659.5,206.53 667.5,217.67 675.5,228.35 683.5,235.5 691.5,244.25 699.5,260.09 707.5,272.56 715.5,274.01 723.5,275.3 731.5,269.49 739.5,265.14 747.5,258.35 755.5,244.75 763.5,231.67 771.5,222.21 779.5,210.7 787.5,204.84 795.5,201.14 803.5,200.16 811.5,196.99"/>
</g>
</svg>
<div class="fl" style="top:88px">100.0% 4979.9</div><div class="fl" style="top:174px">78.6% 4605.9</div><div class="fl" style="top:242px">61.8% 4312.2</div><div class="fl" style="top:290px">50.0% 4106.0</div><div class="fl" style="top:338px">38.2% 3899.7</div><div class="fl" style="top:397px">23.6% 3644.6</div>
<div class="pl" style="top:94px">5000</div><div class="pl" style="top:140px">4800</div><div class="pl" style="top:187px">4600</div><div class="pl" style="top:233px">4400</div><div class="pl" style="top:279px">4200</div><div class="pl" style="top:326px">4000</div><div class="pl" style="top:372px">3800</div><div class="pl" style="top:419px">3600</div>

<div class="xl" style="left:93.5px">Aug 24</div><div class="xl" style="left:189.5px">Aug 26</div><div class="xl" style="left:285.5px">Aug 28</div><div class="xl" style="left:381.5px">Aug 30</div><div class="xl" style="left:477.5px">Sep 1</div><div class="xl" style="left:573.5px">Sep 3</div><div class="xl" style="left:669.5px">Sep 5</div><div class="xl" style="left:765.5px">Sep 7</div>
<div class="xl" style="left:885px">Now</div>
<div class="a" style="left:548px;top:539px;width:13px;height:16px;background:#fff;border-left:1px solid #ccc;border-right:1px solid #ccc;"></div>
<div class="xl" style="left:525.5px">3</div>
<div class="pl" style="top:473px">5000</div>
<div class="pl" style="top:526px">0</div>
<svg class="a" style="left:896px;top:495px;" width="48" height="26" viewBox="896 495 48 26"><path d="M898.5 508L903.5 497.5H940.5V518.5H903.5Z" fill="#fff" stroke="#999" stroke-width="1"/></svg>
<div class="a m" style="left:906.5px;top:501.5px;font-size:11.5px;letter-spacing:-0.3px;line-height:14px;color:#444;">2065</div>
<div class="a m" style="left:504px;top:98px;font-size:10px;line-height:12px;color:#222;letter-spacing:0.05px;">4979.9</div>
<svg class="a" style="left:544px;top:98px;" width="10" height="10" viewBox="544 98 10 10"><path d="M546 102.5H552M549.6 100.3L552 102.5L549.6 104.7" fill="none" stroke="#222" stroke-width="1"/></svg>
<div class="a m" style="left:50px;top:418px;font-size:10px;line-height:12px;color:#222;letter-spacing:0.05px;">3600</div>
<svg class="a" style="left:36px;top:417px;" width="10" height="10" viewBox="36 417 10 10"><path d="M38.5 422.5H44M41 420L38.5 422.5L41 425" fill="none" stroke="#333" stroke-width="1"/></svg>
<div class="a" style="left:553px;top:506px;width:5px;height:5px;background:#5a1010;"></div>
<div class="ft">
<span class="b" style="left:450.30px;letter-spacing:0.02px;">Premium(NoAds)</span>
<span class="" style="left:567.55px;letter-spacing:0.01px;color:#222;">Updated 1 seconds ago</span>
<span class="b" style="left:719.05px;letter-spacing:-0.01px;">Send feedback</span>
<span class="b" style="left:824.75px;letter-spacing:-0.09px;">Twitter</span>
<span class="b" style="left:884.30px;letter-spacing:0.25px;">Help</span>
<i style="left:555px"></i><i style="left:706px"></i><i style="left:811px"></i><i style="left:872px"></i>
</div>

</body></html>
